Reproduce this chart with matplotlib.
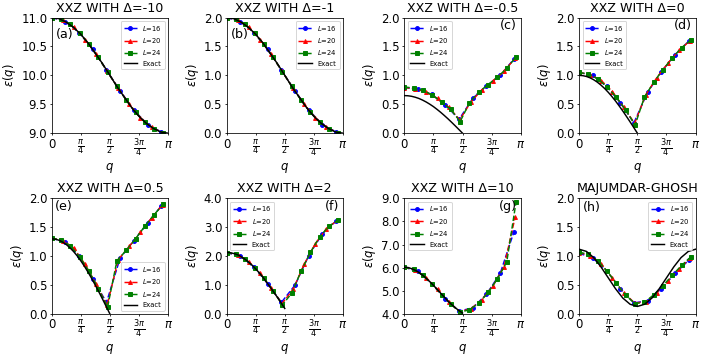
import numpy as np
import matplotlib
matplotlib.use("Agg")
import matplotlib.pyplot as plt

# momentum grids used for the finite-size data
sizes = [16, 20, 24]
q16 = 2 * np.pi * np.arange(9) / 17
q20 = 2 * np.pi * np.arange(11) / 21
q24 = 2 * np.pi * np.arange(13) / 25
q_full = np.linspace(0, np.pi, 17)
q_half = np.linspace(0, np.pi / 2, 17)

# (a) XXZ, Delta = -10
a16 = [11.0, 10.93, 10.74, 10.45, 10.09, 9.73, 9.40, 9.15, 9.02]
a20 = [11.0, 10.96, 10.83, 10.62, 10.37, 10.07, 9.78, 9.50, 9.27, 9.10, 9.01]
a24 = [11.0, 10.97, 10.88, 10.73, 10.54, 10.31, 10.06, 9.81, 9.57, 9.36, 9.19, 9.07, 9.01]
a_exact = [11.0, 10.98, 10.92, 10.83, 10.71, 10.56, 10.38, 10.20, 10.0,
           9.80, 9.62, 9.44, 9.29, 9.17, 9.08, 9.02, 9.0]

# (b) XXZ, Delta = -1
b16 = [2.0, 1.93, 1.74, 1.45, 1.09, 0.73, 0.40, 0.15, 0.02]
b20 = [2.0, 1.96, 1.83, 1.62, 1.37, 1.07, 0.78, 0.50, 0.27, 0.10, 0.01]
b24 = [2.0, 1.97, 1.88, 1.73, 1.54, 1.31, 1.06, 0.81, 0.57, 0.36, 0.19, 0.07, 0.01]
b_exact = [2.0, 1.98, 1.92, 1.83, 1.71, 1.56, 1.38, 1.20, 1.0,
           0.80, 0.62, 0.44, 0.29, 0.17, 0.08, 0.02, 0.0]

# (c) XXZ, Delta = -0.5
c16 = [0.79, 0.76, 0.67, 0.49, 0.24, 0.60, 0.82, 1.00, 1.28]
c20 = [0.79, 0.77, 0.71, 0.60, 0.45, 0.23, 0.54, 0.75, 0.90, 1.07, 1.30]
c24 = [0.80, 0.78, 0.74, 0.66, 0.54, 0.41, 0.20, 0.53, 0.71, 0.84, 0.97, 1.12, 1.32]
c_exact = [0.650, 0.647, 0.638, 0.622, 0.601, 0.573, 0.540, 0.502, 0.460,
           0.412, 0.361, 0.306, 0.249, 0.189, 0.127, 0.064, 0.0]

# (d) XXZ, Delta = 0
d16 = [1.05, 1.00, 0.81, 0.53, 0.18, 0.71, 1.06, 1.36, 1.59]
d20 = [1.05, 1.01, 0.91, 0.72, 0.45, 0.17, 0.66, 0.96, 1.21, 1.43, 1.60]
d24 = [1.05, 1.02, 0.94, 0.80, 0.62, 0.40, 0.14, 0.62, 0.88, 1.10, 1.30, 1.48, 1.61]
d_exact = [1.0, 0.995, 0.981, 0.957, 0.924, 0.882, 0.831, 0.773, 0.707,
           0.634, 0.556, 0.471, 0.383, 0.290, 0.195, 0.098, 0.0]

# (e) XXZ, Delta = 0.5
e16 = [1.31, 1.24, 1.00, 0.61, 0.20, 0.97, 1.27, 1.57, 1.87]
e20 = [1.31, 1.27, 1.14, 0.86, 0.52, 0.15, 0.94, 1.17, 1.41, 1.66, 1.89]
e24 = [1.31, 1.28, 1.18, 0.99, 0.74, 0.44, 0.12, 0.92, 1.10, 1.30, 1.52, 1.72, 1.90]
e_exact = [1.30, 1.294, 1.275, 1.244, 1.201, 1.146, 1.081, 1.005, 0.919,
           0.825, 0.722, 0.613, 0.497, 0.377, 0.254, 0.127, 0.0]

# (f) XXZ, Delta = 2
f16 = [2.12, 2.00, 1.62, 1.05, 0.40, 1.00, 2.02, 2.78, 3.22]
f20 = [2.12, 2.05, 1.81, 1.41, 0.90, 0.36, 0.85, 1.72, 2.43, 2.95, 3.24]
f24 = [2.12, 2.07, 1.89, 1.60, 1.24, 0.80, 0.32, 0.72, 1.48, 2.13, 2.67, 3.04, 3.25]
f_exact = [2.13, 2.12, 2.09, 2.05, 1.98, 1.90, 1.80, 1.69, 1.56,
           1.42, 1.27, 1.10, 0.93, 0.75, 0.57, 0.38, 0.19]

# (g) XXZ, Delta = 10
g16 = [6.02, 5.84, 5.31, 4.66, 4.12, 4.27, 4.85, 5.75, 7.55]
g20 = [6.02, 5.90, 5.56, 5.06, 4.52, 4.10, 4.22, 4.62, 5.22, 6.05, 8.20]
g24 = [6.02, 5.93, 5.67, 5.28, 4.84, 4.42, 4.08, 4.18, 4.47, 4.93, 5.52, 6.25, 8.85]
g_exact = [6.02, 6.01, 5.96, 5.89, 5.80, 5.68, 5.55, 5.40, 5.24,
           5.07, 4.90, 4.73, 4.56, 4.41, 4.27, 4.15, 4.04]

# (h) Majumdar-Ghosh
h16 = [1.05, 0.97, 0.75, 0.44, 0.19, 0.23, 0.44, 0.70, 0.93]
h20 = [1.06, 1.01, 0.86, 0.62, 0.37, 0.19, 0.21, 0.37, 0.57, 0.78, 0.96]
h24 = [1.07, 1.03, 0.92, 0.74, 0.53, 0.32, 0.18, 0.20, 0.33, 0.49, 0.67, 0.84, 0.99]
h_exact = [1.120, 1.082, 0.975, 0.814, 0.625, 0.436, 0.275, 0.168, 0.130,
           0.168, 0.275, 0.436, 0.625, 0.814, 0.975, 1.082, 1.120]

titles = ["XXZ WITH Δ=-10", "XXZ WITH Δ=-1", "XXZ WITH Δ=-0.5", "XXZ WITH Δ=0",
          "XXZ WITH Δ=0.5", "XXZ WITH Δ=2", "XXZ WITH Δ=10", "MAJUMDAR-GHOSH"]
tags = ["(a)", "(b)", "(c)", "(d)", "(e)", "(f)", "(g)", "(h)"]

panels = [
    (a16, a20, a24, a_exact, q_full, (9.0, 11.0), 0.5, "upper right", (0.04, 0.85, "left")),
    (b16, b20, b24, b_exact, q_full, (0.0, 2.0), 0.5, "upper right", (0.04, 0.85, "left")),
    (c16, c20, c24, c_exact, q_half, (0.0, 2.0), 0.5, "upper left", (0.965, 0.93, "right")),
    (d16, d20, d24, d_exact, q_half, (0.0, 2.0), 0.5, "upper left", (0.965, 0.93, "right")),
    (e16, e20, e24, e_exact, q_half, (0.0, 2.0), 0.5, "lower right", (0.025, 0.93, "left")),
    (f16, f20, f24, f_exact, q_half, (0.0, 4.0), 1.0, "upper left", (0.965, 0.93, "right")),
    (g16, g20, g24, g_exact, q_half, (4.0, 9.0), 1.0, "upper left", (0.965, 0.93, "right")),
    (h16, h20, h24, h_exact, q_full, (0.0, 2.0), 0.5, "upper right", (0.03, 0.925, "left")),
]

lefts = [0.073, 0.320, 0.571, 0.818]
bottoms = [0.628, 0.123]
w, h = 0.1645, 0.323

fig = plt.figure(figsize=(708 / 70, 358 / 70), dpi=70)

for i, (y16, y20, y24, yex, qex, ylim, ystep, loc, tag) in enumerate(panels):
    ax = fig.add_axes([lefts[i % 4], bottoms[i // 4], w, h])
    ax.plot(q16, y16, "b--o", ms=4, label="$L$=16")
    ax.plot(q20, y20, "r--^", ms=4, label="$L$=20")
    ax.plot(q24, y24, "g--s", ms=4, label="$L$=24")
    ax.plot(qex, yex, "k-", label="Exact")
    ax.set_xlim(0, np.pi)
    ax.set_ylim(*ylim)
    ax.set_xticks([0, np.pi / 4, np.pi / 2, 3 * np.pi / 4, np.pi])
    ax.set_xticklabels(["0", r"$\frac{\pi}{4}$", r"$\frac{\pi}{2}$",
                        r"$\frac{3\pi}{4}$", r"$\pi$"])
    ax.set_yticks(np.arange(ylim[0], ylim[1] + 0.01, ystep))
    ax.yaxis.set_major_formatter(plt.FormatStrFormatter("%.1f"))
    ax.tick_params(labelsize=12, length=2.5, pad=2)
    ax.set_xlabel("$q$", fontsize=12, labelpad=2)
    ax.set_ylabel(r"$\varepsilon(q)$", fontsize=12, labelpad=3)
    ax.set_title(titles[i], fontsize=13)
    ax.legend(loc=loc, fontsize="x-small")
    ax.text(tag[0], tag[1], tags[i], transform=ax.transAxes,
            ha=tag[2], va="center", fontsize=13)

plt.savefig("out.png", dpi=70)
